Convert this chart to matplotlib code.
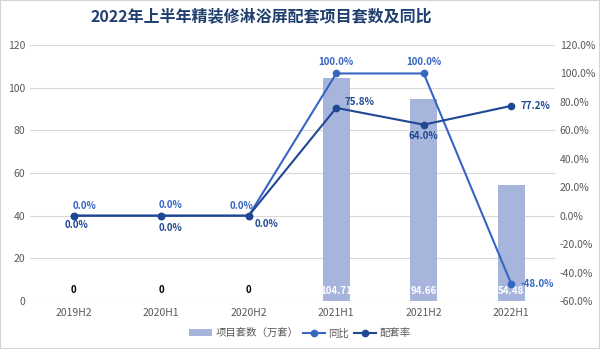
import numpy as np
import matplotlib
matplotlib.use("Agg")
import matplotlib.pyplot as plt
from matplotlib.patches import Rectangle

plt.rcParams['font.family'] = ['Noto Sans CJK SC', 'DejaVu Sans']

periods = ["2019H2", "2020H1", "2020H2", "2021H1", "2021H2", "2022H1"]
projects = [0, 0, 0, 104.71, 94.66, 54.48]          # 项目套数（万套）
yoy = [0.0, 0.0, 0.0, 100.0, 100.0, -48.0]          # 同比 %
ratio = [0.0, 0.0, 0.0, 75.8, 64.0, 77.2]           # 配套率 %

bar_color = "#a7b5dc"
yoy_color = "#3566c4"
ratio_color = "#1f4793"
grey = "#595959"

fig = plt.figure(figsize=(6, 3.49), dpi=100)
fig.patches.append(Rectangle((0, 0), 1, 1, transform=fig.transFigure,
                             fill=False, edgecolor="#d4d4d4", linewidth=1.5))

ax = fig.add_axes([0.05, 0.1375, 0.875, 0.7335])
ax2 = ax.twinx()

x = np.arange(len(periods))
bars = ax.bar(x, projects, width=0.31, color=bar_color, zorder=2,
              label="项目套数（万套）")
ax.set_ylim(0, 120)
ax.set_yticks(range(0, 121, 20))
ax.set_xlim(-0.5, len(periods) - 0.5)
ax.set_xticks(x)
ax.set_xticklabels(periods)
ax.grid(axis="y", color="#d9d9d9", linewidth=0.8, zorder=0)
ax.set_axisbelow(True)

for a in (ax, ax2):
    for s in a.spines.values():
        s.set_visible(False)
    a.tick_params(length=0, labelsize=7.5, labelcolor=grey)
ax.tick_params(axis="x", pad=5)

ax2.set_ylim(-60, 120)
ax2.set_yticks(range(-60, 121, 20))
ax2.set_yticklabels([f"{v:.1f}%" for v in range(-60, 121, 20)])

l1, = ax2.plot(x, yoy, color=yoy_color, lw=1.5, marker="o", ms=4.5,
               label="同比", zorder=4)
l2, = ax2.plot(x, ratio, color=ratio_color, lw=1.5, marker="o", ms=4.5,
               label="配套率", zorder=5)

# bar value labels sitting at the bottom of each bar
for xi, v in zip(x, projects):
    if v > 0:
        ax.annotate(f"{v:.2f}", (xi, 0), xytext=(0, 7), textcoords="offset points",
                    ha="center", va="center", color="white", fontsize=7,
                    fontweight="bold", zorder=6)
    else:
        ax.annotate("0", (xi, 0), xytext=(0, 8), textcoords="offset points",
                    ha="center", va="center", color="black", fontsize=7,
                    fontweight="bold", zorder=6)

# line labels: (offset x, offset y, ha) in points
yoy_offs = [(8, 7, "center"), (7, 8, "center"), (-5, 7, "center"),
            (0, 8, "center"), (0, 8, "center"), (7, 0, "left")]
ratio_offs = [(2, -7, "center"), (7, -9, "center"), (13, -6, "center"),
              (6, 4, "left"), (0, -8, "center"), (7, 0, "left")]
for xi, v, (dx, dy, ha) in zip(x, yoy, yoy_offs):
    ax2.annotate(f"{v:.1f}%", (xi, v), xytext=(dx, dy), textcoords="offset points",
                 ha=ha, va="center", color=yoy_color, fontsize=7,
                 fontweight="bold", zorder=7)
for xi, v, (dx, dy, ha) in zip(x, ratio, ratio_offs):
    ax2.annotate(f"{v:.1f}%", (xi, v), xytext=(dx, dy), textcoords="offset points",
                 ha=ha, va="center", color=ratio_color, fontsize=7,
                 fontweight="bold", zorder=7)

fig.text(0.435, 0.952, "2022年上半年精装修淋浴屏配套项目套数及同比",
         ha="center", va="center", fontsize=11.5, fontweight="bold",
         color="#1f3f6e")

leg = fig.legend(handles=[bars, l1, l2], loc="center", bbox_to_anchor=(0.5, 0.045),
                 ncol=3, frameon=False, fontsize=7.5, handlelength=2.2,
                 handletextpad=0.3, columnspacing=0.4)
for t in leg.get_texts():
    t.set_color(grey)

fig.savefig("out.png", dpi=100)
